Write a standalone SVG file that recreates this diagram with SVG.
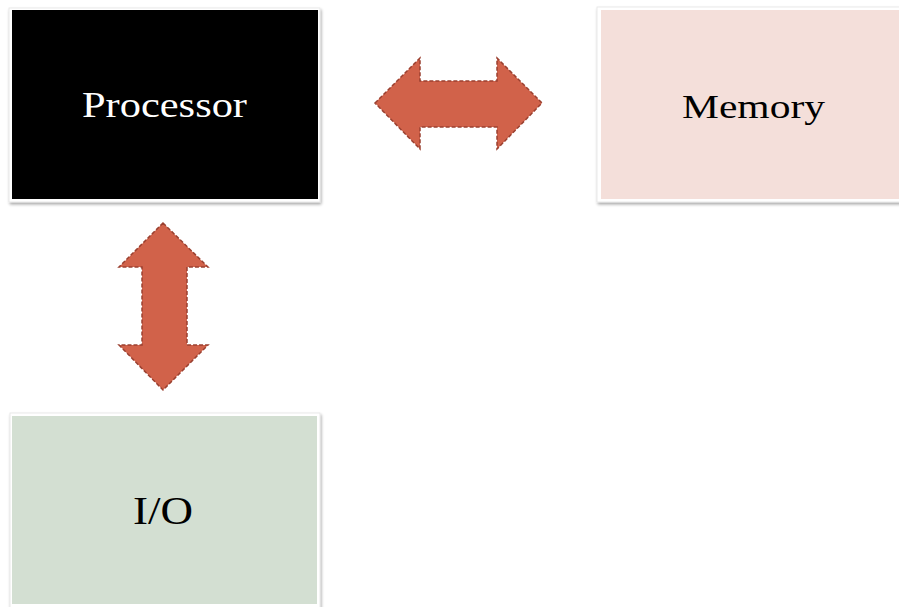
<svg xmlns="http://www.w3.org/2000/svg" width="899" height="607" viewBox="0 0 899 607">
  <style>
    .frame { fill: #ffffff; stroke: #e4e4e4; stroke-width: 0.8; filter: url(#shade); }
    .label { font-family: "Liberation Serif", "Times New Roman", serif; text-anchor: middle; }
    .bus { fill: #D1624A; stroke: #9A4030; stroke-width: 1.5; stroke-dasharray: 4 2; stroke-linejoin: miter; }
  </style>
  <defs>
    <filter id="shade" x="-5%" y="-5%" width="115%" height="115%">
      <feGaussianBlur in="SourceAlpha" stdDeviation="1.5"/>
      <feOffset dx="0.5" dy="2" result="b"/>
      <feComponentTransfer><feFuncA type="linear" slope="0.35"/></feComponentTransfer>
      <feMerge><feMergeNode/><feMergeNode in="SourceGraphic"/></feMerge>
    </filter>
  </defs>

  <rect width="899" height="607" fill="#ffffff"/>

  <g id="processor">
    <rect class="frame" x="9" y="8" width="311" height="194"/>
    <rect x="12" y="10" width="306" height="189" fill="#000000"/>
    <text class="label" x="164.5" y="117" font-size="36" fill="#ffffff" textLength="165" lengthAdjust="spacingAndGlyphs">Processor</text>
  </g>

  <g id="memory">
    <rect class="frame" x="597" y="7" width="310" height="195"/>
    <rect x="601" y="10" width="300" height="189" fill="#F4DFDA"/>
    <text class="label" x="753.5" y="118" font-size="33" fill="#000000" textLength="143" lengthAdjust="spacingAndGlyphs">Memory</text>
  </g>

  <g id="io">
    <rect class="frame" x="10" y="413" width="310" height="200"/>
    <rect x="12" y="416" width="305" height="188" fill="#D3DFD2"/>
    <text class="label" x="163" y="524" font-size="39" fill="#000000" textLength="60" lengthAdjust="spacingAndGlyphs">I/O</text>
  </g>

  <g id="connectors">
    <!-- processor <-> memory -->
    <polygon class="bus" points="375,103 420,58 420,81 497,81 497,58 542,103 497,149 497,127 420,127 420,149"/>
    <!-- processor <-> I/O -->
    <polygon class="bus" points="163,223 208,267 187,267 187,345 208,345 163,390 119,345 142,345 142,267 119,267"/>
  </g>
</svg>
